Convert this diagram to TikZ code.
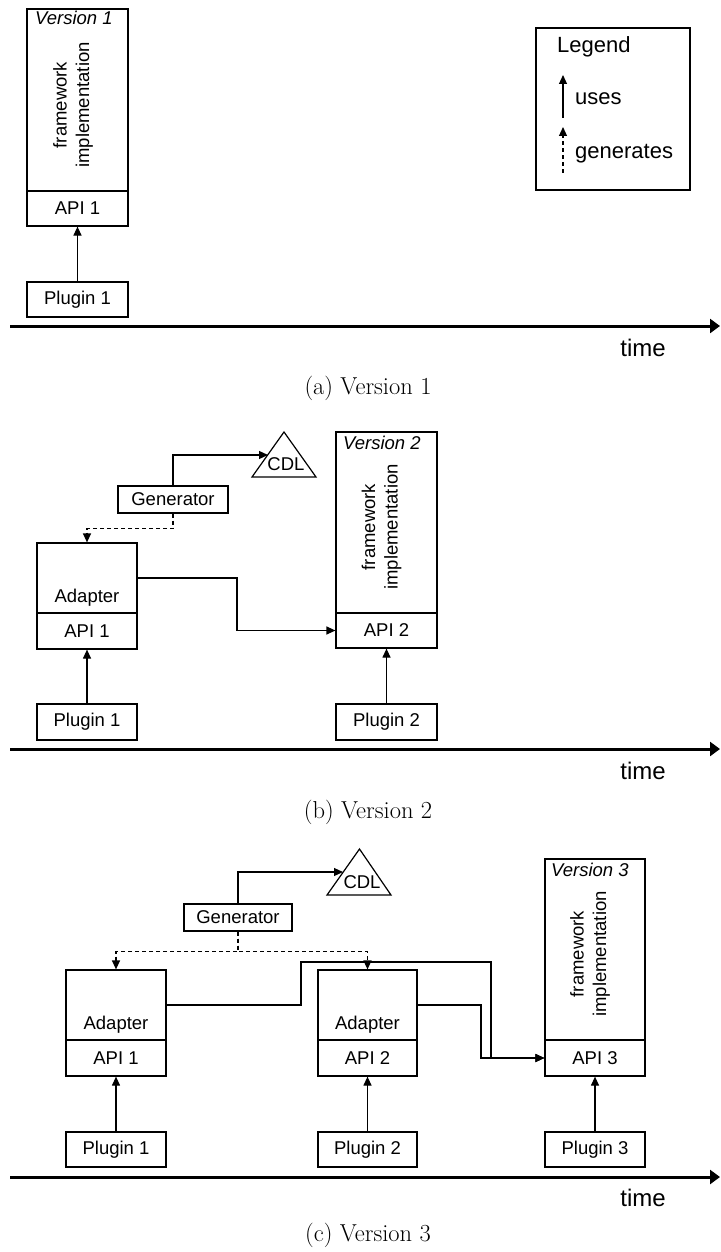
\documentclass[tikz,border=0pt]{standalone}
\usepackage{fontspec}
\newfontfamily\arialfont{Liberation Sans}
\usetikzlibrary{arrows.meta}

\begin{document}
\begin{tikzpicture}[x=1pt,y=-1pt,
  sans/.style={font=\arialfont\fontsize{18.5}{22.5}\selectfont},
  box/.style={draw, line width=1.2pt, inner sep=0pt, sans},
  plain/.style={inner sep=0pt, sans},
  vlabel/.style={inner sep=0pt, font=\arialfont\itshape\fontsize{18.5}{22}\selectfont, anchor=base west},
  fwtext/.style={inner sep=0pt, rotate=90, align=center, sans},
  legtext/.style={inner sep=0pt, anchor=base west, font=\arialfont\fontsize{22}{26}\selectfont},
  timelabel/.style={inner sep=0pt, font=\arialfont\fontsize{24}{28}\selectfont},
  caption/.style={inner sep=0pt, font=\fontsize{24.5}{29}\selectfont},
  link/.style={line width=1.2pt},
  uses/.style={link, -{Triangle[length=9pt,width=8pt]}},
  gens/.style={uses, dash pattern=on 4pt off 3pt},
  timeline/.style={line width=3pt, -{Triangle[length=10pt,width=14pt]}},
  tri/.style={draw, line width=1.2pt, line join=miter}
]
\useasboundingbox (0,0) rectangle (720,1252);

% ---------------- (a) Version 1 ----------------
\node[box, minimum width=101, minimum height=182] (fw1) at (77.5,100) {};
\node[box, minimum width=101, minimum height=35] (api1a) at (77.5,208.5) {API 1};
\node[box, minimum width=101, minimum height=35] (plg1a) at (77.5,299.5) {Plugin 1};
\node[vlabel] (ver1) at (35,25) {Version 1};
\node[fwtext] (fwt1) at (73,105) {framework\\implementation};
\draw[uses] (plg1a) -- (api1a);

\coordinate (tla0) at (10,326);
\coordinate (tla1) at (720,326);
\draw[timeline] (tla0) -- (tla1);
\node[timelabel] (timea) at (643,348) {time};
\node[caption] (capa) at (368,388) {(a)~Version 1};

% legend
\node[draw, line width=1.2pt, minimum width=154, minimum height=162, inner sep=0pt] (legend) at (613,109) {};
\node[legtext] (legt) at (557,53) {Legend};
\coordinate (lu0) at (563,118);
\coordinate (lu1) at (563,75);
\coordinate (lg0) at (563,173);
\coordinate (lg1) at (563,127);
\draw[uses] (lu0) -- (lu1);
\draw[gens] (lg0) -- (lg1);
\node[legtext] (legu) at (575,105) {uses};
\node[legtext] (legg) at (575,159) {generates};

% ---------------- (b) Version 2 ----------------
\node[box, minimum width=110, minimum height=27] (gen2) at (173,499.5) {Generator};
\draw[tri] (252,477) -- (284,432) -- (316,477) -- cycle;
\node[plain] (cdl2) at (286,464) {CDL};
\coordinate (cdl2in) at (268,455);
\draw[uses] (gen2.north) |- (cdl2in);

\node[box, minimum width=100, minimum height=70] (adp1b) at (87,578) {};
\node[plain, anchor=base] (adp1bt) at ([yshift=11pt]adp1b.south) {Adapter};
\node[box, minimum width=100, minimum height=36] (api1b) at (87,631) {API 1};
\node[box, minimum width=100, minimum height=36] (plg1b) at (87,722) {Plugin 1};
\draw[uses] (plg1b) -- (api1b);
\draw[gens] (gen2.south) -- ++(0,15) -| (adp1b.north);

\node[box, minimum width=101, minimum height=181] (fw2) at (386.5,522.5) {};
\node[box, minimum width=101, minimum height=35] (api2b) at (386.5,630.5) {API 2};
\node[box, minimum width=101, minimum height=36] (plg2b) at (386.5,722) {Plugin 2};
\node[vlabel] (ver2) at (343,449) {Version 2};
\node[fwtext] (fwt2) at (381.5,527) {framework\\implementation};
\draw[uses] (plg2b) -- (api2b);
\draw[uses] (adp1b.east) -- (237,578) -- (237,630.5) -- (api2b.west);

\coordinate (tlb0) at (10,749);
\coordinate (tlb1) at (720,749);
\draw[timeline] (tlb0) -- (tlb1);
\node[timelabel] (timeb) at (643,771) {time};
\node[caption] (capb) at (368,812) {(b)~Version 2};

% ---------------- (c) Version 3 ----------------
\node[box, minimum width=108, minimum height=27] (gen3) at (238,917.5) {Generator};
\draw[tri] (327,895) -- (359.5,849) -- (391,895) -- cycle;
\node[plain] (cdl3) at (362,882) {CDL};
\coordinate (cdl3in) at (343,872);
\draw[uses] (gen3.north) |- (cdl3in);

\node[box, minimum width=100, minimum height=70] (adp1c) at (116,1005) {};
\node[plain, anchor=base] (adp1ct) at ([yshift=11pt]adp1c.south) {Adapter};
\node[box, minimum width=100, minimum height=36] (api1c) at (116,1058) {API 1};
\node[box, minimum width=100, minimum height=35] (plg1c) at (116,1149.5) {Plugin 1};
\draw[uses] (plg1c) -- (api1c);

\node[box, minimum width=99, minimum height=70] (adp2c) at (367.5,1005) {};
\node[plain, anchor=base] (adp2ct) at ([yshift=11pt]adp2c.south) {Adapter};
\node[box, minimum width=99, minimum height=36] (api2c) at (367.5,1058) {API 2};
\node[box, minimum width=99, minimum height=35] (plg2c) at (367.5,1149.5) {Plugin 2};
\draw[uses] (plg2c) -- (api2c);

\draw[gens] (gen3.south) -- ++(0,20) -| (adp1c.north);
\draw[gens] (gen3.south) -- ++(0,20) -| (adp2c.north);

\node[box, minimum width=100, minimum height=181] (fw3) at (595,949.5) {};
\node[box, minimum width=100, minimum height=36] (api3c) at (595,1058) {API 3};
\node[box, minimum width=100, minimum height=35] (plg3c) at (595,1149.5) {Plugin 3};
\node[vlabel] (ver3) at (551,876) {Version 3};
\node[fwtext] (fwt3) at (590,954) {framework\\implementation};
\draw[uses] (plg3c) -- (api3c);

\draw[uses] (adp1c.east) -- (301,1005) -- (301,962) -- (491,962) -- (491,1058) -- (api3c.west);
\draw[uses] (adp2c.east) -- (481,1005) -- (481,1058) -- (api3c.west);

\coordinate (tlc0) at (10,1177);
\coordinate (tlc1) at (720,1177);
\draw[timeline] (tlc0) -- (tlc1);
\node[timelabel] (timec) at (643,1198) {time};
\node[caption] (capc) at (368,1235) {(c)~Version 3};
\end{tikzpicture}
\end{document}
